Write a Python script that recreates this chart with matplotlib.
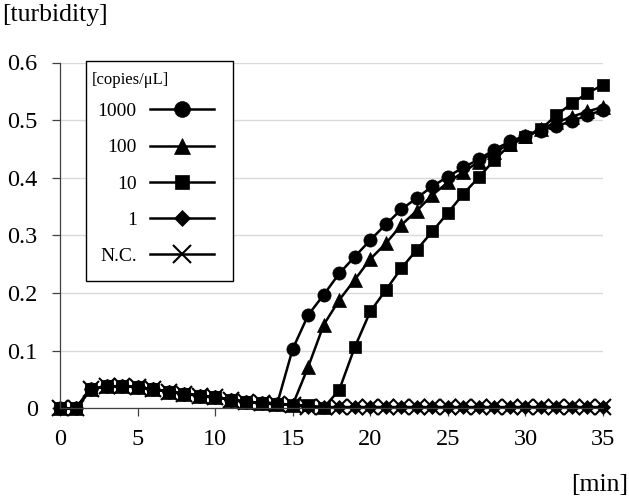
import matplotlib
matplotlib.use("Agg")
import matplotlib.pyplot as plt
from matplotlib.patches import Rectangle

minutes = list(range(0, 36))

early = [0.0, 0.0, 0.033, 0.038, 0.038, 0.037, 0.033, 0.029, 0.025, 0.022,
         0.019, 0.015, 0.011, 0.010, 0.008]

c1000 = early + [0.103, 0.162, 0.197, 0.234, 0.263, 0.292, 0.319, 0.345, 0.365,
                 0.385, 0.402, 0.418, 0.432, 0.449, 0.463, 0.473, 0.482, 0.490,
                 0.498, 0.509, 0.517]
c100 = early + [0.006, 0.072, 0.145, 0.188, 0.223, 0.259, 0.286, 0.318, 0.343,
                0.370, 0.392, 0.410, 0.428, 0.444, 0.459, 0.472, 0.485, 0.496,
                0.506, 0.515, 0.523]
c10 = early + [0.006, 0.005, 0.001, 0.032, 0.106, 0.168, 0.205, 0.243, 0.275,
               0.307, 0.339, 0.372, 0.401, 0.431, 0.457, 0.470, 0.484, 0.509,
               0.529, 0.547, 0.561]
c1 = early + [0.005, 0.003] + [0.002] * 19
cNC = early + [0.005, 0.003] + [0.002] * 19

labels = ["1000", "100", "10", "1", "N.C."]
series = [c1000, c100, c10, c1, cNC]
markers = ["o", "^", "s", "D", "x"]
msizes = [9.5, 10, 8.5, 7, 11]

plt.rcParams['font.family'] = ['Liberation Serif', 'DejaVu Serif']

W, H = 629, 500
fig = plt.figure(figsize=(6.29, 5.0), dpi=100)
ax = fig.add_axes([60 / W, 1 - 408.3 / H, (603 - 60) / W, (408.3 - 62.5) / H])

for ys, lab, mk, ms in zip(series, labels, markers, msizes):
    ax.plot(minutes, ys, color='black', lw=1.8, marker=mk, markersize=ms,
            markeredgewidth=1.5 if mk == 'x' else 0.5, markerfacecolor='black',
            markeredgecolor='black', label=lab, clip_on=False)

ax.set_xlim(0, 35)
ax.set_ylim(0, 0.6)
ax.set_xticks([0, 5, 10, 15, 20, 25, 30, 35])
ax.set_yticks([0, 0.1, 0.2, 0.3, 0.4, 0.5, 0.6])
ax.set_yticklabels(["0", "0.1", "0.2", "0.3", "0.4", "0.5", "0.6"])
ax.yaxis.grid(True, color='#d9d9d9', lw=1)
ax.set_axisbelow(True)
for s in ['top', 'right']:
    ax.spines[s].set_visible(False)
for s in ['left', 'bottom']:
    ax.spines[s].set_color('#404040')
    ax.spines[s].set_linewidth(0.9)
ax.tick_params(axis='both', labelsize=17.5, direction='out', length=6,
               width=0.9, color='#404040')
ax.tick_params(axis='y', pad=10)
ax.tick_params(axis='x', pad=9)

# legend frame
frame = Rectangle((85.7 / W, 1 - 280.7 / H), (233.3 - 85.7) / W, (280.7 - 61) / H,
                  transform=fig.transFigure, facecolor='white', edgecolor='black',
                  lw=1.0, zorder=3)
fig.add_artist(frame)

handles, labs = ax.get_legend_handles_labels()
leg = fig.legend(handles, labs, loc='upper right',
                 bbox_to_anchor=(214 / W, 1 - 102.5 / H),
                 bbox_transform=fig.transFigure, markerfirst=False,
                 fontsize=14, frameon=False,
                 handlelength=3.29, handletextpad=0.68, labelspacing=0.96,
                 markerscale=1.2, borderpad=0, borderaxespad=0)
leg.set_zorder(4)

fig.text(91.7 / W, 1 - 80 / H, '[copies/μL]', fontsize=12, ha='left', va='center',
         zorder=5)

fig.text(2 / W, 1 - 15 / H, '[turbidity]', fontsize=18.5, ha='left', va='center')
fig.text(628 / W, 1 - 485 / H, '[min]', fontsize=18.5, ha='right', va='center')

fig.savefig('out.png', dpi=100)
